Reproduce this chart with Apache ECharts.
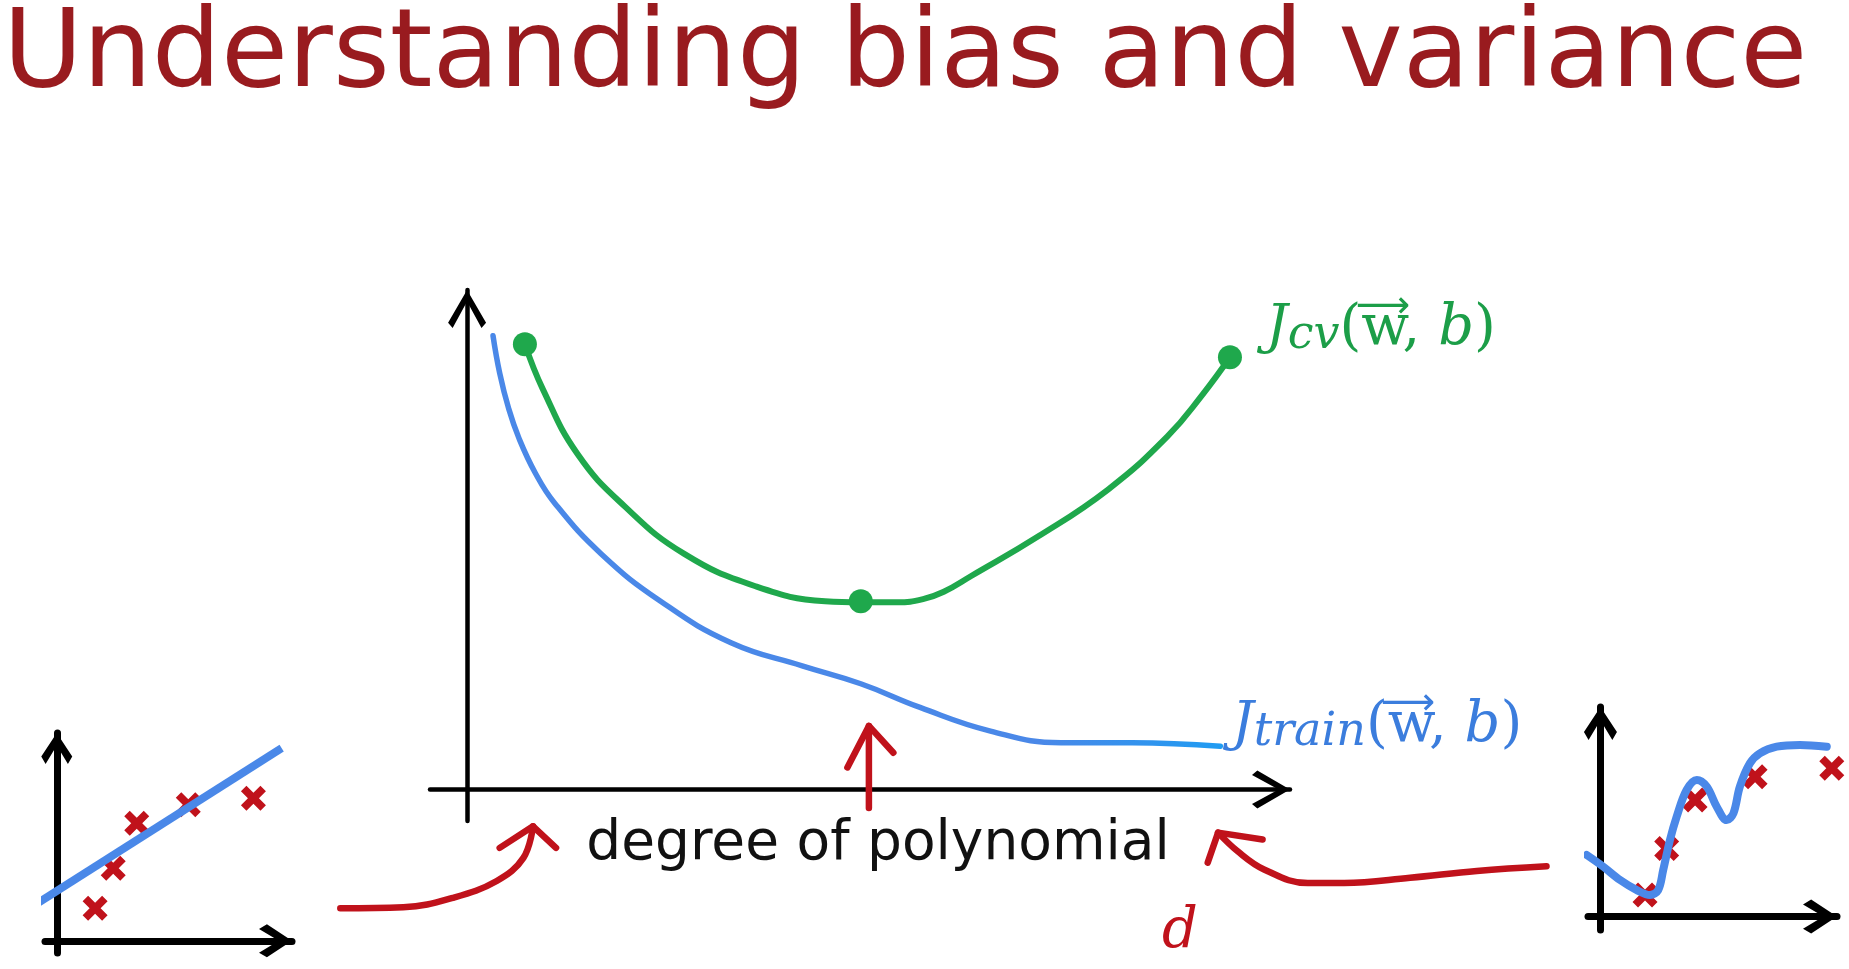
<!DOCTYPE html>
<html><head><meta charset="utf-8">
<script src="https://cdn.jsdelivr.net/npm/echarts@6/dist/echarts.min.js"></script>
<style>html,body{margin:0;padding:0;background:#fff;}#c{width:1849px;height:969px;}</style>
</head><body><div id="c"></div>
<script>
// ---------- main chart: cost vs degree of polynomial ----------
const trainX = [0.35, 0.44, 0.56, 0.70, 0.92, 1.18, 1.81, 2.61, 3.56, 4.52, 5.31, 6.11, 7.06, 8.01, 8.97, 10.16];
const trainY = [8.63, 7.92, 7.25, 6.68, 6.02, 5.45, 4.48, 3.58, 2.79, 2.35, 2.01, 1.56, 1.11, 0.89, 0.89, 0.82];
const cvX = [0.78, 1.02, 1.49, 2.13, 2.93, 3.88, 4.83, 5.31, 5.80, 6.15, 6.43, 6.80, 7.70, 8.65, 9.45, 9.92, 10.29];
const cvY = [8.47, 7.62, 6.38, 5.38, 4.48, 3.87, 3.58, 3.56, 3.56, 3.62, 3.76, 4.06, 4.81, 5.71, 6.72, 7.51, 8.22];
const cvDotX = [0.78, 5.31, 10.29];
const cvDotY = [8.47, 3.58, 8.22];

// red annotation arrows (same units as the main chart, drawn on an overlay grid)
const midShaftX = [5.42, 5.42];
const midShaftY = [-0.35, 1.21];
const midHeadX = [5.13, 5.42, 5.75];
const midHeadY = [0.42, 1.21, 0.70];
const leftCurveX = [-1.71, -0.86, -0.19, 0.40, 0.76, 0.89];
const leftCurveY = [-2.26, -2.24, -2.06, -1.74, -1.30, -0.70];
const leftHeadX = [0.44, 0.89, 1.20];
const leftHeadY = [-1.11, -0.70, -1.11];
const rightCurveX = [14.56, 13.62, 12.72, 11.83, 11.34, 10.75, 10.39, 10.13];
const rightCurveY = [-1.46, -1.55, -1.68, -1.78, -1.78, -1.52, -1.17, -0.82];
const rightHeadX = [10.73, 10.13, 9.99];
const rightHeadY = [-0.95, -0.82, -1.39];

// ---------- left small chart: underfit ----------
const lowX = [1.63, 2.40, 3.40, 5.59, 8.36];
const lowY = [1.33, 2.97, 4.81, 5.56, 5.83];
const lowFitX = [-0.785, 9.56];
const lowFitY = [1.56, 7.88];

// ---------- right small chart: overfit ----------
const highX = [1.79, 2.66, 3.80, 6.21, 9.29];
const highY = [0.97, 3.06, 5.23, 6.27, 6.65];
const highFitX = [-0.55, 0.11, 0.79, 1.46, 1.99, 2.32, 2.52, 2.79, 3.06, 3.46, 3.87, 4.27, 4.67, 5.07, 5.34, 5.60, 6.00, 6.40, 7.08, 8.01, 9.09];
const highFitY = [2.76, 2.24, 1.64, 1.19, 0.97, 1.19, 2.09, 3.43, 4.48, 5.68, 6.13, 5.83, 4.93, 4.33, 4.63, 5.83, 6.87, 7.32, 7.62, 7.70, 7.62];

const pairs = (xs, ys) => xs.map((x, i) => [x, ys[i]]);

const RED = '#c0121b';
const GREEN = '#1fa84c';
const BLUE = '#4a88e8';
const CHEV = 'path://M50,0 L100,86 L88,100 L50,30 L12,100 L0,86 Z';
const CHEV_S = 'path://M50,0 L100,76 L86,100 L50,40 L14,100 L0,76 Z';
const CROSS = 'path://M0,22 L22,0 L50,28 L78,0 L100,22 L72,50 L100,78 L78,100 L50,72 L22,100 L0,78 L28,50 Z';

function axis(gi, min, max, w, size) {
  return {
    type: 'value', gridIndex: gi, min: min, max: max,
    axisLine: { onZero: true, lineStyle: { color: '#000', width: w },
      symbol: ['none', gi === 0 ? CHEV : CHEV_S], symbolSize: size, symbolOffset: [0, -size[1] / 2] },
    axisTick: { show: false }, axisLabel: { show: false }, splitLine: { show: false }
  };
}
function hiddenAxis(min, max) {
  return { type: 'value', gridIndex: 3, min: min, max: max, show: false, splitLine: { show: false } };
}

function stroke(xs, ys, smooth) {
  return { type: 'line', xAxisIndex: 3, yAxisIndex: 3, data: pairs(xs, ys), symbol: 'none', smooth: smooth,
    silent: true, z: 5,
    lineStyle: { color: RED, width: 6.5, cap: 'round', join: 'round' } };
}

function label(x, y, sub, color) {
  const f = 'DejaVu Serif';
  return { type: 'text', x: x, y: y, style: {
    text: '{J|J}{s|' + sub + '}{p|(w, }{b|b}{p|)}', fill: color, textVerticalAlign: 'top', verticalAlign: 'top',
    rich: {
      J: { fontFamily: f, fontStyle: 'italic', fontSize: 54, lineHeight: 60, fill: color },
      s: { fontFamily: f, fontStyle: 'italic', fontSize: 46, lineHeight: 26, verticalAlign: 'bottom', fill: color },
      p: { fontFamily: f, fontSize: 56, lineHeight: 60, fill: color },
      b: { fontFamily: f, fontStyle: 'italic', fontSize: 56, lineHeight: 60, fill: color }
    } } };
}
function vecArrow(x, y, color) {
  return { type: 'text', x: x, y: y, style: { text: '\u27F6', font: '38px "DejaVu Sans"', fill: color,
    textAlign: 'center', align: 'center', textVerticalAlign: 'middle', verticalAlign: 'middle' } };
}

const chart = echarts.init(document.getElementById('c'));
chart.setOption({
  animation: false,
  backgroundColor: '#fff',
  grid: [
    { left: 430, top: 290, width: 860, height: 531 },
    { left: 45, top: 733, width: 247, height: 220 },
    { left: 1588, top: 707, width: 249, height: 223 },
    { left: 0, top: 0, width: 1849, height: 969 }
  ],
  xAxis: [axis(0, -0.5, 11.1, 4.5, [38, 38]), axis(1, -0.5, 10, 7, [48, 33]), axis(2, -0.5, 9.5, 7, [48, 34]), hiddenAxis(-6.30, 18.64)],
  yAxis: [axis(0, -0.6, 9.5, 4.5, [38, 38]), axis(1, -0.5, 8.5, 7, [50, 31]), axis(2, -0.6, 9.4, 7, [52, 33]), hiddenAxis(-3.414, 15.018)],
  series: [
    { type: 'line', xAxisIndex: 0, yAxisIndex: 0, data: pairs(trainX, trainY), symbol: 'none', smooth: 0.45,
      lineStyle: { width: 5.5, cap: 'round',
        color: new echarts.graphic.LinearGradient(0, 0, 1, 0, [{ offset: 0, color: BLUE }, { offset: 0.75, color: BLUE }, { offset: 1, color: '#1f9cf2' }]) } },
    { type: 'line', xAxisIndex: 0, yAxisIndex: 0, data: pairs(cvX, cvY), symbol: 'none', smooth: 0.45,
      lineStyle: { color: GREEN, width: 6, cap: 'round' } },
    { type: 'scatter', xAxisIndex: 0, yAxisIndex: 0, data: pairs(cvDotX, cvDotY), symbol: 'circle', symbolSize: 24,
      itemStyle: { color: GREEN, opacity: 1 }, z: 6 },
    stroke(midShaftX, midShaftY, false),
    stroke(midHeadX, midHeadY, false),
    stroke(leftCurveX, leftCurveY, 0.4),
    stroke(leftHeadX, leftHeadY, false),
    stroke(rightCurveX, rightCurveY, 0.4),
    stroke(rightHeadX, rightHeadY, false),

    { type: 'scatter', xAxisIndex: 1, yAxisIndex: 1, data: pairs(lowX, lowY), symbol: CROSS, symbolSize: 25,
      itemStyle: { color: RED, opacity: 1 }, z: 3 },
    { type: 'line', xAxisIndex: 1, yAxisIndex: 1, data: pairs(lowFitX, lowFitY), symbol: 'none', clip: false,
      lineStyle: { color: BLUE, width: 8, cap: 'butt' }, z: 4 },

    { type: 'scatter', xAxisIndex: 2, yAxisIndex: 2, data: pairs(highX, highY), symbol: CROSS, symbolSize: 25,
      itemStyle: { color: RED, opacity: 1 }, z: 3 },
    { type: 'line', xAxisIndex: 2, yAxisIndex: 2, data: pairs(highFitX, highFitY), symbol: 'none', clip: false,
      smooth: 0.35, lineStyle: { color: BLUE, width: 8, cap: 'round' }, z: 4 }
  ],
  graphic: [
    { type: 'text', x: 3, y: 3, style: { text: 'Understanding bias and variance', font: '109px "DejaVu Sans"',
      fill: '#991b1f', textVerticalAlign: 'top', verticalAlign: 'top' } },
    { type: 'text', x: 878, y: 845, style: { text: 'degree of polynomial', font: '55px "DejaVu Sans"', fill: '#111',
      textAlign: 'center', align: 'center', textVerticalAlign: 'middle', verticalAlign: 'middle' } },
    { type: 'text', x: 1180, y: 932, style: { text: 'd', font: 'italic 56px "DejaVu Serif"', fill: RED,
      textAlign: 'center', align: 'center', textVerticalAlign: 'middle', verticalAlign: 'middle' } },
    label(1266, 299, 'cv', '#1c9e48'),
    vecArrow(1383, 307, '#1c9e48'),
    label(1232, 696, 'train', '#3b7ddd'),
    vecArrow(1408, 704, '#3b7ddd')
  ]
});
</script></body></html>
